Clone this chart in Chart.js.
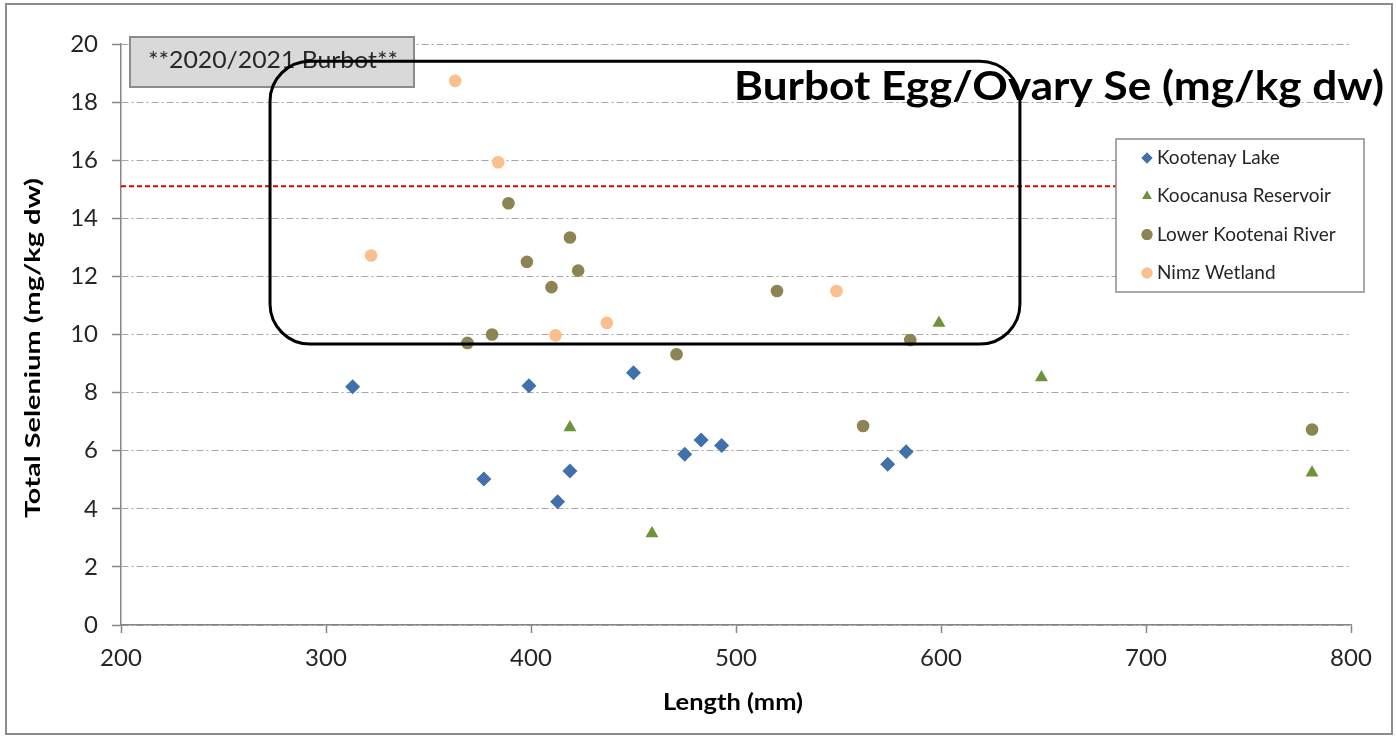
<!DOCTYPE html>
<html>
<head>
<meta charset="utf-8">
<title>Burbot Egg/Ovary Se</title>
<script src="https://cdn.jsdelivr.net/npm/chart.js@4.4.1/dist/chart.umd.min.js"></script>
<style>
    html, body { margin: 0; padding: 0; background: #ffffff; }
    #wrap { width: 1396px; height: 736px; position: relative; }
</style>
</head>
<body>
<div id="wrap"><canvas id="seChart" width="1396" height="736"></canvas></div>
<script>
// Data (length in mm, total Se in mg/kg dw)
const lakeLength = [313, 377, 399, 413, 419, 450, 475, 483, 493, 574, 583];
const lakeSe = [8.2, 5.03, 8.24, 4.24, 5.3, 8.68, 5.88, 6.37, 6.18, 5.53, 5.96];

const reservoirLength = [419, 459, 599, 649, 781];
const reservoirSe = [6.8, 3.15, 10.4, 8.52, 5.24];

const riverLength = [369, 381, 389, 398, 410, 419, 423, 471, 520, 562, 585, 781];
const riverSe = [9.71, 10.0, 14.52, 12.5, 11.63, 13.34, 12.2, 9.32, 11.5, 6.85, 9.81, 6.73];

const wetlandLength = [322, 363, 384, 412, 437, 549];
const wetlandSe = [12.72, 18.73, 15.93, 9.97, 10.4, 11.5];

// guideline level (red dashed)
const guidelineSe = 15.1;
const guidelineLength = [200, 800];

const xTicks = [200, 300, 400, 500, 600, 700, 800];
const yTicks = [0, 2, 4, 6, 8, 10, 12, 14, 16, 18, 20];

// highlighted region (rounded box) in data units
const boxLength = [272.7, 638.5];
const boxSe = [9.67, 19.41];

const seriesNames = ['Kootenay Lake', 'Koocanusa Reservoir', 'Lower Kootenai River', 'Nimz Wetland'];
const seriesColors = ['#4170ad', '#6e9439', '#8c8452', '#fbbf8e'];
const seriesShapes = ['rectRot', 'triangle', 'circle', 'circle'];

function toPoints(xs, ys) {
    return xs.map((x, i) => ({ x: x, y: ys[i] }));
}

const tickFont = { family: 'Lato', size: 24 };
const axisColor = '#868686';

// text squeezed/stretched to a given length (the original uses Calibri)
function drawFitted(ctx, text, cx, cy, angle, length) {
    const w = ctx.measureText(text).width;
    ctx.save();
    ctx.translate(cx, cy);
    ctx.rotate(angle);
    ctx.scale(length / w, 1);
    ctx.textAlign = 'center';
    ctx.textBaseline = 'middle';
    ctx.fillText(text, 0, 0);
    ctx.restore();
}

// draws the overlays Excel had as shapes: frame, axis titles, label, rounded box, title, legend
const overlayPlugin = {
    id: 'overlays',
    beforeDraw(chart) {
        const ctx = chart.ctx;
        ctx.save();
        ctx.fillStyle = '#ffffff';
        ctx.fillRect(0, 0, chart.width, chart.height);
        ctx.restore();
    },
    afterDraw(chart) {
        const ctx = chart.ctx;
        const xs = chart.scales.x;
        const ys = chart.scales.y;
        ctx.save();

        // outer frame
        ctx.strokeStyle = '#8c8c8c';
        ctx.lineWidth = 2;
        ctx.strokeRect(6, 4, 1386, 730);

        // axis titles
        ctx.fillStyle = '#000000';
        ctx.font = 'bold 21px Lato';
        drawFitted(ctx, 'Total Selenium (mg/kg dw)', 33, 348, -Math.PI / 2, 340);
        ctx.font = 'bold 22px Lato';
        drawFitted(ctx, 'Length (mm)', 733, 703, 0, 140);

        // year label box
        ctx.fillStyle = '#d9d9d9';
        ctx.fillRect(130, 37, 284, 50);
        ctx.strokeStyle = '#8c8c8c';
        ctx.lineWidth = 2;
        ctx.strokeRect(130, 37, 284, 50);
        ctx.fillStyle = '#262626';
        ctx.font = '23px Lato';
        drawFitted(ctx, '**2020/2021 Burbot**', 273, 61, 0, 250);

        // rounded highlight box
        const left = xs.getPixelForValue(boxLength[0]);
        const right = xs.getPixelForValue(boxLength[1]);
        const bottom = ys.getPixelForValue(boxSe[0]);
        const top = ys.getPixelForValue(boxSe[1]);
        ctx.beginPath();
        ctx.roundRect(left, top, right - left, bottom - top, 40);
        ctx.strokeStyle = '#000000';
        ctx.lineWidth = 3;
        ctx.stroke();

        // big title
        const title = 'Burbot Egg/Ovary Se (mg/kg dw)';
        ctx.font = 'bold 40px Lato';
        const w = ctx.measureText(title).width;
        ctx.translate(1384, 100);
        ctx.scale(650 / w, 1);
        ctx.fillStyle = '#000000';
        ctx.textAlign = 'right';
        ctx.textBaseline = 'alphabetic';
        ctx.fillText(title, 0, 0);
        ctx.setTransform(1, 0, 0, 1, 0, 0);

        // legend
        ctx.fillStyle = '#ffffff';
        ctx.fillRect(1116, 139, 248, 153);
        ctx.strokeStyle = '#8c8c8c';
        ctx.lineWidth = 1.5;
        ctx.strokeRect(1116, 139, 248, 153);
        ctx.font = '19px Lato';
        ctx.textAlign = 'left';
        ctx.textBaseline = 'middle';
        seriesNames.forEach((name, i) => {
            const y = 158 + i * 38.3;
            ctx.fillStyle = seriesColors[i];
            ctx.strokeStyle = seriesColors[i];
            Chart.helpers.drawPoint(ctx, { pointStyle: seriesShapes[i], radius: 5.5, borderWidth: 0 }, 1147, y);
            ctx.fill();
            ctx.fillStyle = '#262626';
            ctx.fillText(name, 1157, y);
        });

        ctx.restore();
    }
};

function markerSet(i, xs, ys) {
    return {
        label: seriesNames[i],
        data: toPoints(xs, ys),
        pointStyle: seriesShapes[i],
        pointRadius: seriesShapes[i] === 'circle' ? 6.3 : 7.5,
        pointBackgroundColor: seriesColors[i],
        pointBorderColor: seriesColors[i],
        pointBorderWidth: 0,
        showLine: false,
        order: 1
    };
}

const ctx = document.getElementById('seChart').getContext('2d');
new Chart(ctx, {
    type: 'scatter',
    data: {
        datasets: [
            markerSet(0, lakeLength, lakeSe),
            markerSet(1, reservoirLength, reservoirSe),
            markerSet(2, riverLength, riverSe),
            markerSet(3, wetlandLength, wetlandSe),
            {
                label: 'Guideline',
                data: toPoints(guidelineLength, guidelineLength.map(() => guidelineSe)),
                showLine: true,
                borderColor: '#e00000',
                borderWidth: 2,
                borderDash: [5, 3],
                pointRadius: 0,
                order: 5
            }
        ]
    },
    options: {
        responsive: false,
        animation: false,
        devicePixelRatio: 1,
        layout: {
            padding: { left: 0, right: 45, top: 44, bottom: 0 }
        },
        plugins: {
            legend: { display: false },
            title: { display: false },
            tooltip: { enabled: false }
        },
        scales: {
            x: {
                type: 'linear',
                min: 200,
                max: 800,
                afterBuildTicks: scale => { scale.ticks = xTicks.map(v => ({ value: v })); },
                afterFit: scale => { scale.height = 111; },
                ticks: {
                    font: tickFont,
                    color: '#262626',
                    padding: 11,
                    maxRotation: 0
                },
                grid: {
                    drawOnChartArea: false,
                    tickLength: 8,
                    tickColor: axisColor,
                    tickWidth: 1.5
                },
                border: { color: axisColor, width: 1.5 }
            },
            y: {
                type: 'linear',
                min: 0,
                max: 20,
                afterBuildTicks: scale => { scale.ticks = yTicks.map(v => ({ value: v })); },
                afterFit: scale => { scale.width = 121; },
                ticks: {
                    font: tickFont,
                    color: '#262626',
                    padding: 14
                },
                grid: {
                    color: '#a6a6a6',
                    lineWidth: 1,
                    tickLength: 9,
                    tickColor: axisColor,
                    tickWidth: 1.5,
                    tickBorderDash: []
                },
                border: { color: axisColor, width: 1.5, dash: [7, 3, 2, 3] }
            }
        }
    },
    plugins: [overlayPlugin]
});
</script>
</body>
</html>
